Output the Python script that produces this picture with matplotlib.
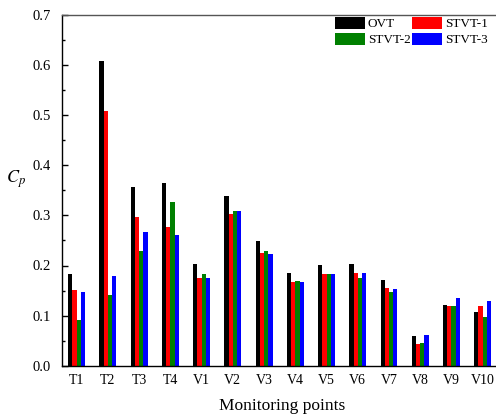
import matplotlib
matplotlib.use("Agg")
import matplotlib.pyplot as plt
import numpy as np

# monitoring points and Cp for each case
points = ['T1', 'T2', 'T3', 'T4', 'V1', 'V2', 'V3', 'V4', 'V5', 'V6', 'V7', 'V8', 'V9', 'V10']
ovt    = [0.183, 0.608, 0.357, 0.365, 0.202, 0.339, 0.248, 0.186, 0.201, 0.202, 0.172, 0.060, 0.122, 0.108]
stvt1  = [0.152, 0.508, 0.297, 0.277, 0.176, 0.303, 0.224, 0.168, 0.184, 0.186, 0.156, 0.043, 0.120, 0.120]
stvt2  = [0.091, 0.142, 0.228, 0.327, 0.183, 0.309, 0.229, 0.169, 0.183, 0.176, 0.148, 0.045, 0.120, 0.098]
stvt3  = [0.147, 0.179, 0.267, 0.261, 0.176, 0.308, 0.223, 0.168, 0.184, 0.186, 0.154, 0.061, 0.136, 0.130]

plt.rcParams['font.family'] = ['Liberation Serif', 'DejaVu Serif']
plt.rcParams['mathtext.fontset'] = 'stix'

fig = plt.figure(figsize=(4.96, 4.19), dpi=100)
ax = fig.add_axes([62/496, (419-365.7)/419, 441/496, 350.7/419])

x = np.arange(len(points))
w = 0.135
series = [(ovt, 'OVT', 'black'), (stvt1, 'STVT-1', 'red'),
          (stvt2, 'STVT-2', 'green'), (stvt3, 'STVT-3', 'blue')]
bars = []
for i, (vals, lab, col) in enumerate(series):
    b = ax.bar(x + (i - 1.5) * w, vals, w, color=col, label=lab)
    bars.append(b)

ax.set_xlim(-0.47, 13.65)
ax.set_ylim(0, 0.7)
ax.set_xticks(x)
ax.set_xticklabels(points, fontsize=10)
ax.tick_params(axis='x', length=0, pad=6)
ax.set_yticks(np.arange(0, 0.71, 0.1))
ax.set_yticklabels(['%.1f' % v for v in np.arange(0, 0.71, 0.1)], fontsize=10.5)
ax.set_yticks(np.arange(0.05, 0.7, 0.1), minor=True)
ax.tick_params(axis='y', which='major', direction='in', length=4, width=1, pad=8)
ax.tick_params(axis='y', which='minor', direction='in', length=2.5, width=1)
for s in ax.spines.values():
    s.set_linewidth(1.0)
ax.spines['top'].set_color('#555555')

ax.set_xlabel('Monitoring points', fontsize=12.5, labelpad=8)
ax.set_ylabel('$C_p$', fontsize=13, rotation=0, labelpad=18)
ax.yaxis.set_label_coords(-0.105, 0.5)

# legend: row1 OVT, STVT-1; row2 STVT-2, STVT-3
handles = [bars[0], bars[2], bars[1], bars[3]]
labels = ['OVT', 'STVT-2', 'STVT-1', 'STVT-3']
fig.legend(handles, labels, ncol=2, loc='upper left', bbox_to_anchor=(335/496, 1 - 17/419),
           frameon=False, fontsize=9.5, handlelength=2.25, handleheight=1.0,
           handletextpad=0.25, columnspacing=0.1, labelspacing=0.2,
           borderpad=0, borderaxespad=0)

fig.savefig('out.png', dpi=100)
